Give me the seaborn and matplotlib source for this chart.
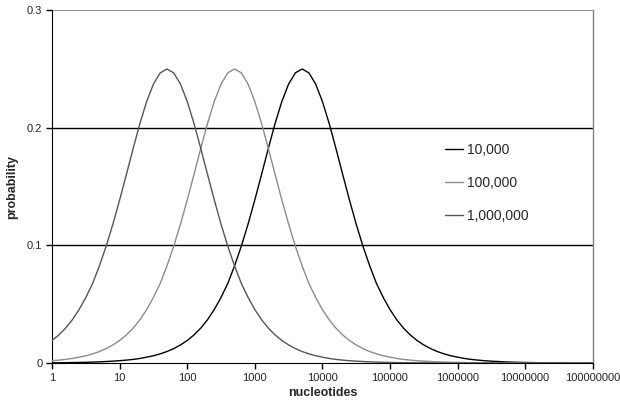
import numpy as np
import pandas as pd
import seaborn as sns
import matplotlib.pyplot as plt
from matplotlib.ticker import FixedLocator, FixedFormatter

# sample points along the x axis: 10 per decade, 1 .. 1e8
nucleotides = np.logspace(0, 8, 81)

# curve values (one per sample point)
p_10000 = [0.0002, 0.0002, 0.0003, 0.0004, 0.0005, 0.0006, 0.0008, 0.0010, 0.0013, 0.0016,
           0.0020, 0.0025, 0.0031, 0.0039, 0.0050, 0.0062, 0.0078, 0.0098, 0.0123, 0.0154,
           0.0192, 0.0239, 0.0297, 0.0368, 0.0455, 0.0558, 0.0677, 0.0826, 0.0993, 0.1181,
           0.1387, 0.1604, 0.1825, 0.2037, 0.2224, 0.2372, 0.2467, 0.2500, 0.2467, 0.2372,
           0.2224, 0.2037, 0.1825, 0.1604, 0.1387, 0.1181, 0.0993, 0.0826, 0.0677, 0.0558,
           0.0455, 0.0368, 0.0297, 0.0239, 0.0192, 0.0154, 0.0123, 0.0098, 0.0078, 0.0062,
           0.0050, 0.0039, 0.0031, 0.0025, 0.0020, 0.0016, 0.0013, 0.0010, 0.0008, 0.0006,
           0.0005, 0.0004, 0.0003, 0.0003, 0.0002, 0.0002, 0.0001, 0.0001, 0.0001, 0.0001,
           0.0000]
p_100000 = [0.0020, 0.0025, 0.0031, 0.0039, 0.0050, 0.0062, 0.0078, 0.0098, 0.0123, 0.0154,
            0.0192, 0.0239, 0.0297, 0.0368, 0.0455, 0.0558, 0.0677, 0.0826, 0.0993, 0.1181,
            0.1387, 0.1604, 0.1825, 0.2037, 0.2224, 0.2372, 0.2467, 0.2500, 0.2467, 0.2372,
            0.2224, 0.2037, 0.1825, 0.1604, 0.1387, 0.1181, 0.0993, 0.0826, 0.0677, 0.0558,
            0.0455, 0.0368, 0.0297, 0.0239, 0.0192, 0.0154, 0.0123, 0.0098, 0.0078, 0.0062,
            0.0050, 0.0039, 0.0031, 0.0025, 0.0020, 0.0016, 0.0013, 0.0010, 0.0008, 0.0006,
            0.0005, 0.0004, 0.0003, 0.0003, 0.0002, 0.0002, 0.0001, 0.0001, 0.0001, 0.0001,
            0.0000, 0.0000, 0.0000, 0.0000, 0.0000, 0.0000, 0.0000, 0.0000, 0.0000, 0.0000,
            0.0000]
p_1000000 = [0.0192, 0.0239, 0.0297, 0.0368, 0.0455, 0.0558, 0.0677, 0.0826, 0.0993, 0.1181,
             0.1387, 0.1604, 0.1825, 0.2037, 0.2224, 0.2372, 0.2467, 0.2500, 0.2467, 0.2372,
             0.2224, 0.2037, 0.1825, 0.1604, 0.1387, 0.1181, 0.0993, 0.0826, 0.0677, 0.0558,
             0.0455, 0.0368, 0.0297, 0.0239, 0.0192, 0.0154, 0.0123, 0.0098, 0.0078, 0.0062,
             0.0050, 0.0039, 0.0031, 0.0025, 0.0020, 0.0016, 0.0013, 0.0010, 0.0008, 0.0006,
             0.0005, 0.0004, 0.0003, 0.0003, 0.0002, 0.0002, 0.0001, 0.0001, 0.0001, 0.0001,
             0.0000, 0.0000, 0.0000, 0.0000, 0.0000, 0.0000, 0.0000, 0.0000, 0.0000, 0.0000,
             0.0000, 0.0000, 0.0000, 0.0000, 0.0000, 0.0000, 0.0000, 0.0000, 0.0000, 0.0000,
             0.0000]

series_names = ["10,000", "100,000", "1,000,000"]
colors = ["#000000", "#8c8c8c", "#555555"]

x_ticks = [1, 10, 100, 1000, 10000, 100000, 1000000, 10000000, 100000000]
x_labels = ["1", "10", "100", "1000", "10000", "100000", "1000000", "10000000", "100000000"]
y_ticks = [0, 0.1, 0.2, 0.3]
y_labels = ["0", "0.1", "0.2", "0.3"]

# long table for seaborn
df = pd.concat([
    pd.DataFrame({"nucleotides": nucleotides, "probability": vals, "size": name})
    for name, vals in zip(series_names, [p_10000, p_100000, p_1000000])
])

sns.set_style("white")
plt.rcParams['font.family'] = ['Liberation Sans', 'DejaVu Sans']

fig = plt.figure(figsize=(6.2, 4.07), dpi=100)
ax = fig.add_axes([0.084, 0.108, 0.872, 0.867])

# gridlines like the original (black at 0.1/0.2, grey on top)
for yv in [0.1, 0.2]:
    ax.axhline(yv, color="black", lw=1.0, zorder=1)
ax.axhline(0.3, color="#808080", lw=1.2, zorder=1)

sns.lineplot(data=df, x="nucleotides", y="probability", hue="size",
             hue_order=series_names, palette=colors, linewidth=1.0,
             ax=ax, legend=False, zorder=3)

ax.set_xscale("log")
ax.set_xlim(1, 1e8)
ax.set_ylim(0, 0.3)
ax.xaxis.set_major_locator(FixedLocator(x_ticks))
ax.xaxis.set_major_formatter(FixedFormatter(x_labels))
ax.xaxis.set_minor_locator(FixedLocator([]))
ax.set_yticks(y_ticks)
ax.set_yticklabels(y_labels)
ax.tick_params(axis="both", direction="out", length=4, width=1, labelsize=8, color="black", pad=3)
ax.tick_params(axis="x", bottom=True)
ax.tick_params(axis="y", left=True)

ax.spines["top"].set_visible(False)
ax.spines["right"].set_color("#808080")
ax.spines["right"].set_linewidth(1.0)
ax.spines["left"].set_color("black")
ax.spines["bottom"].set_color("black")

ax.set_xlabel("nucleotides", fontsize=9, fontweight="bold", labelpad=3)
ax.set_ylabel("probability", fontsize=9, fontweight="bold", labelpad=6)

handles = [plt.Line2D([], [], color=c, lw=1.0) for c in colors]
ax.legend(handles, series_names, loc="upper left", bbox_to_anchor=(0.718, 0.648),
          bbox_transform=fig.transFigure, frameon=False, fontsize=10,
          borderpad=0, borderaxespad=0, handlelength=1.3, handletextpad=0.3,
          labelspacing=1.37)

fig.savefig("out.png", dpi=100)
